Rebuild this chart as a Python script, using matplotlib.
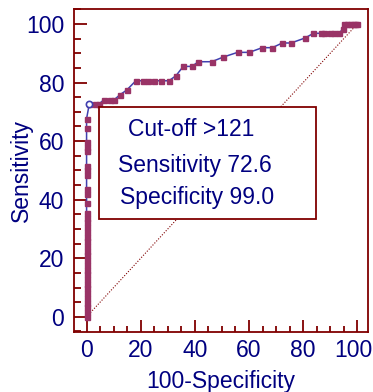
import matplotlib
matplotlib.use("Agg")
import matplotlib.pyplot as plt
import matplotlib.transforms as mtransforms
from matplotlib.patches import Rectangle
from matplotlib.ticker import MultipleLocator

# ROC curve points (100-Specificity, Sensitivity)
fpr = [0, 0, 0, 0, 0, 0, 0, 0, 0, 0, 0, 0, 0, 0, 0, 0, 0, 0, 0, 0, 0, 0, 0,
       0, 0, 0, 0, 0, 0, 0, 0, 0, 0, 0,
       1.0, 3.0, 4.5, 6.5, 8.5, 10.3, 12.3, 14.8,
       18.2, 20.7, 22.8, 25.0, 27.5, 30.4, 33.0, 35.7, 38.9, 41.3, 46.2,
       50.5, 55.8, 60.1, 64.9, 68.6, 72.3, 75.5, 80.7,
       83.8, 86.5, 87.7, 90.0, 91.5, 93.4, 94.6,
       95.2, 96.2, 97.3, 98.3, 99.3, 100.0]
sens = [0, 1.6, 3.2, 4.8, 6.5, 8.1, 9.7, 11.3, 12.9, 14.5, 16.1, 17.7, 19.4,
        21.0, 22.6, 24.2, 25.8, 27.4, 29.0, 30.6, 32.3, 33.9, 35.5,
        38.7, 41.9, 43.5, 48.4, 50.0, 51.6, 56.5, 58.1, 59.7, 64.5, 67.7,
        72.6, 72.6, 72.6, 74.2, 74.2, 74.2, 75.8, 77.4,
        80.6, 80.6, 80.6, 80.6, 80.6, 80.6, 82.3, 85.5, 85.5, 87.1, 87.1,
        88.7, 90.3, 90.3, 91.9, 91.9, 93.5, 93.5, 95.2,
        96.8, 96.8, 96.8, 96.8, 96.8, 96.8, 98.4,
        100.0, 100.0, 100.0, 100.0, 100.0, 100.0]

cutoff_x = 1.0
cutoff_y = 72.6
box_lines = ["Cut-off >121", "Sensitivity 72.6", "Specificity 99.0"]
x_ticks = [0, 20, 40, 60, 80, 100]
y_ticks = [0, 20, 40, 60, 80, 100]
diag = [0, 100]

frame_col = "#800000"
text_col = "#000080"
line_col = "#4040b0"
marker_col = "#993366"

plt.rcParams['font.family'] = ['Liberation Sans', 'DejaVu Sans']
fs = 16.5

fig = plt.figure(figsize=(3.73, 3.92), dpi=100)
ax = fig.add_axes([0.198, 0.153, 0.789, 0.824])

ax.plot(diag, diag, color=frame_col, lw=0.8, ls=(0, (1, 1.5)))
ax.plot(fpr, sens, color=line_col, lw=1.1, marker='s', ms=3.6,
        mfc=marker_col, mec=marker_col, zorder=3)
ax.plot([cutoff_x], [cutoff_y], marker='o', ms=4.5, mfc='white',
        mec=line_col, mew=1.2, ls='none', zorder=4)

ax.set_xlim(-4.7, 104.0)
ax.set_ylim(-5.2, 105.1)
ax.set_xticks(x_ticks)
ax.set_yticks(y_ticks)
ax.xaxis.set_minor_locator(MultipleLocator(5))
ax.yaxis.set_minor_locator(MultipleLocator(5))
ax.tick_params(axis='both', which='major', direction='in', length=9,
               width=1.3, color=frame_col, labelcolor=text_col,
               labelsize=fs, pad=5)
ax.tick_params(axis='y', which='major', pad=7)
ax.tick_params(axis='both', which='minor', direction='in', length=5,
               width=1.3, color=frame_col)
ax.tick_params(axis='x', which='minor', length=4)
for s in ax.spines.values():
    s.set_color(frame_col)
    s.set_linewidth(1.3)

# nudge the last x tick label slightly left so it stays inside the image
last = ax.get_xticklabels()[-1]
last.set_transform(last.get_transform() +
                   mtransforms.ScaledTranslation(-3 / 72, 0, fig.dpi_scale_trans))

ax.set_xlabel("100-Specificity", color=text_col, fontsize=fs, labelpad=6)
ax.set_ylabel("Sensitivity", color=text_col, fontsize=fs, labelpad=-5)

ax.add_patch(Rectangle((0.084, 0.350), 0.738, 0.348, transform=ax.transAxes,
                       facecolor='white', edgecolor=frame_col, lw=1.3,
                       zorder=5))
ax.text(0.398, 0.628, box_lines[0], transform=ax.transAxes, ha='center',
        va='center', fontsize=fs, color=text_col, zorder=6)
ax.text(0.412, 0.517, box_lines[1], transform=ax.transAxes, ha='center',
        va='center', fontsize=fs, color=text_col, zorder=6)
ax.text(0.418, 0.415, box_lines[2], transform=ax.transAxes, ha='center',
        va='center', fontsize=fs, color=text_col, zorder=6)

fig.savefig("out.png", dpi=100)
